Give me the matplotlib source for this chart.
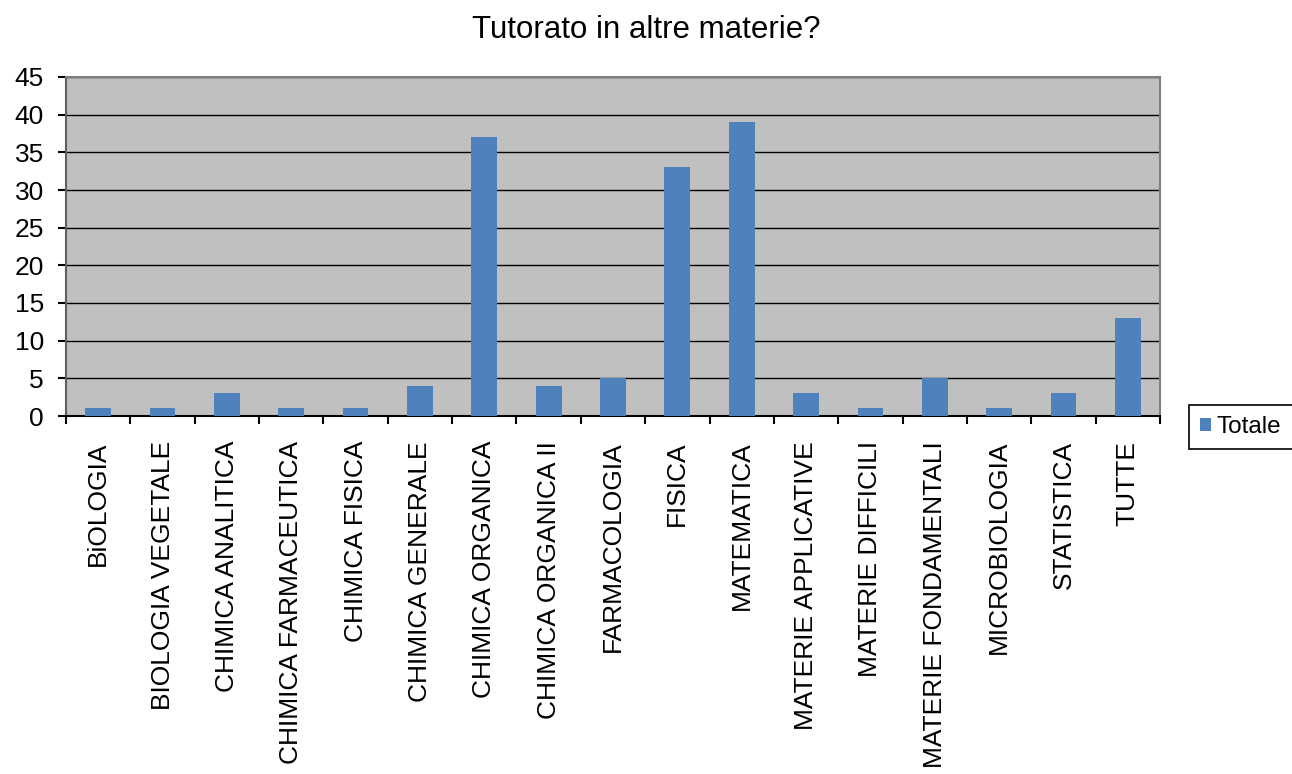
import matplotlib.pyplot as plt
import numpy as np

plt.rcParams['font.family'] = ['Liberation Sans', 'DejaVu Sans']

# dati
materie = ["BiOLOGIA", "BIOLOGIA VEGETALE", "CHIMICA ANALITICA", "CHIMICA FARMACEUTICA",
           "CHIMICA FISICA", "CHIMICA GENERALE", "CHIMICA ORGANICA", "CHIMICA ORGANICA II",
           "FARMACOLOGIA", "FISICA", "MATEMATICA", "MATERIE APPLICATIVE", "MATERIE DIFFICILI",
           "MATERIE FONDAMENTALI", "MICROBIOLOGIA", "STATISTICA", "TUTTE"]
totale = [1, 1, 3, 1, 1, 4, 37, 4, 5, 33, 39, 3, 1, 5, 1, 3, 13]
y_ticks = [0, 5, 10, 15, 20, 25, 30, 35, 40, 45]

W, H = 1292, 774
fig = plt.figure(figsize=(W / 100, H / 100), dpi=100)
ax = fig.add_axes([66 / W, 1 - 416 / H, (1160 - 66) / W, (416 - 77) / H])
ax.set_facecolor("#C0C0C0")

x = np.arange(len(materie))
ax.bar(x, totale, width=0.4, color="#4F81BD", label="Totale", zorder=3)

ax.set_xlim(-0.5, len(materie) - 0.5)
ax.set_ylim(0, 45)
ax.set_yticks(y_ticks)
ax.yaxis.grid(True, color="black", linewidth=1.0, zorder=1)
ax.set_axisbelow(True)

ax.set_xticks(x)
ax.set_xticklabels(materie, rotation=90, fontsize=19)
ax.tick_params(axis="x", which="major", length=0, pad=18)
ax.set_xticks(np.arange(-0.5, len(materie), 1), minor=True)
ax.tick_params(axis="x", which="minor", length=6, width=1.5, direction="out", color="black")
ax.tick_params(axis="y", length=6, width=1.5, direction="out", labelsize=19, pad=10)

for s in ["top", "right"]:
    ax.spines[s].set_color("#808080")
    ax.spines[s].set_linewidth(1.5)
ax.spines["left"].set_color("#606060")
ax.spines["left"].set_linewidth(1.5)
ax.spines["bottom"].set_color("black")
ax.spines["bottom"].set_linewidth(1.5)

fig.text(646 / W, 1 - 30 / H, "Tutorato in altre materie?", ha="center", va="center", fontsize=22.5)

leg = fig.legend(loc="center left", bbox_to_anchor=(1189 / W, 1 - 427 / H), borderaxespad=0,
                 fontsize=17.5, fancybox=False, edgecolor="black", framealpha=1,
                 handlelength=0.45, handleheight=0.45, handletextpad=0.25, borderpad=0.45)
leg.get_frame().set_linewidth(1.2)

fig.savefig("out.png", dpi=100)
